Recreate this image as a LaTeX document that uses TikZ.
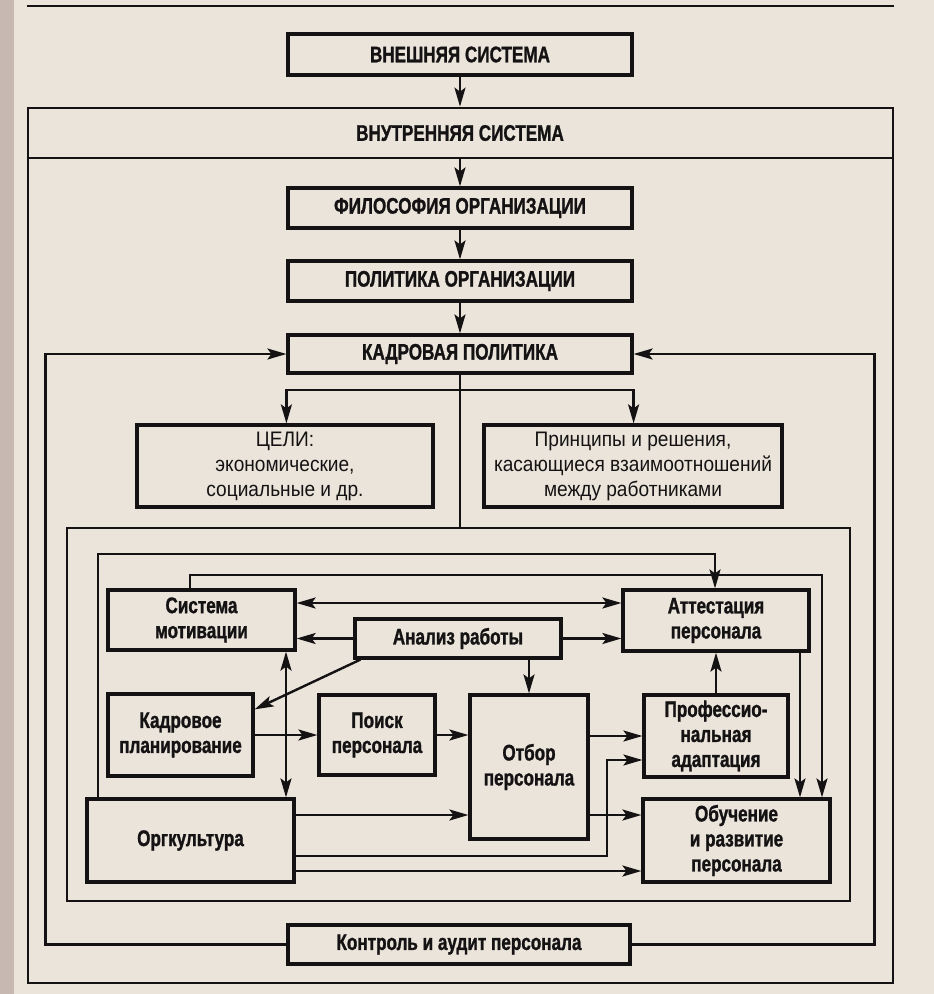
\documentclass[tikz,border=0pt]{standalone}
\usepackage{fontspec}
\setmainfont{Liberation Sans}
\newfontfamily\bcond{Liberation Sans}[FakeStretch=0.76, BoldFeatures={FakeBold=1.2}]
\newfontfamily\rcond{Liberation Sans}[FakeStretch=0.91]
\usetikzlibrary{arrows.meta,calc}
\definecolor{paper}{RGB}{234,228,219}
\definecolor{ink}{RGB}{20,18,18}
\definecolor{scanedge}{RGB}{200,184,178}
\begin{document}
\begin{tikzpicture}[x=1pt,y=-1pt,
  bx/.style={draw=ink, line width=3.2pt, inner sep=2pt, align=center, text=ink,
    font=\bcond\bfseries\fontsize{22.5}{25}\selectfont},
  rbx/.style={bx, font=\rcond\fontsize{21}{25}\selectfont},
  fr/.style={draw=ink, line width=2.7pt},
  ln/.style={draw=ink, line width=2.4pt},
  arr/.style={ln, -{Stealth[length=19pt,width=11pt,inset=4pt]}},
  arrb/.style={ln, {Stealth[length=19pt,width=11pt,inset=4pt]}-{Stealth[length=19pt,width=11pt,inset=4pt]}},
]
\useasboundingbox (0,0) rectangle (934,994);
\fill[paper] (0,0) rectangle (934,994);
\fill[scanedge] (0,0) rectangle (14,994);

% frames
\node[fr, inner sep=0, minimum width=865pt, minimum height=875pt] (outer) at (460.5,545.5) {};
\node[fr, inner sep=0, minimum width=783pt, minimum height=373pt] (frameA) at (458.5,714.5) {};
\coordinate (tl) at (0,6);
\coordinate (dv) at (0,158);
\draw[fr] (outer.west |- tl) -- (outer.east |- tl);
\draw[fr] (outer.west |- dv) -- (outer.east |- dv);

% upper boxes
\node[bx, minimum width=344pt, minimum height=41pt] (ext) at (460,54.5) {ВНЕШНЯЯ СИСТЕМА};
\node[bx, draw=none] (inner) at (460,133) {ВНУТРЕННЯЯ СИСТЕМА};
\node[bx, minimum width=344pt, minimum height=40pt] (phil) at (460,208) {ФИЛОСОФИЯ ОРГАНИЗАЦИИ};
\node[bx, minimum width=344pt, minimum height=40pt] (pol) at (460,281) {ПОЛИТИКА ОРГАНИЗАЦИИ};
\node[bx, minimum width=344pt, minimum height=38pt] (kp) at (460,354) {КАДРОВАЯ ПОЛИТИКА};
\node[rbx, minimum width=296pt, minimum height=82pt] (goals) at (285,466) {ЦЕЛИ:\\экономические,\\социальные и др.};
\node[rbx, minimum width=298pt, minimum height=82pt] (princ) at (633,466) {Принципы и решения,\\касающиеся взаимоотношений\\между работниками};

% inner boxes
\node[bx, minimum width=187pt, minimum height=60pt] (sm) at (201.5,620) {Система\\мотивации};
\node[bx, minimum width=206pt, minimum height=39pt] (an) at (458,638.5) {Анализ работы};
\node[bx, minimum width=186pt, minimum height=61pt] (att) at (716,620.5) {Аттестация\\персонала};
\node[bx, minimum width=145pt, minimum height=82pt] (kplan) at (180.5,735) {Кадровое\\планирование};
\node[bx, minimum width=116pt, minimum height=80pt] (poisk) at (377,735) {Поиск\\персонала};
\node[bx, minimum width=118pt, minimum height=144pt] (otbor) at (529,767) {Отбор\\персонала};
\node[bx, minimum width=144pt, minimum height=82pt] (prof) at (716,736) {Профессио-\\нальная\\адаптация};
\node[bx, minimum width=207pt, minimum height=83pt] (org) at (190.5,840.5) {Оргкультура};
\node[bx, minimum width=187pt, minimum height=83pt] (obuch) at (736.5,840.5) {Обучение\\и развитие\\персонала};
\node[bx, minimum width=342pt, minimum height=39pt] (ctrl) at (459,944.5) {Контроль и аудит персонала};

% upper chain
\draw[arr] (ext.south) -- (ext.south |- outer.north);
\draw[arr] (phil.north |- dv) -- (phil.north);
\draw[arr] (phil.south) -- (pol.north);
\draw[arr] (pol.south) -- (kp.north);

% kadrovaya politika branches
\coordinate (j) at (460,390);
\draw[ln] (kp.south) -- (kp.south |- frameA.north);
\draw[arr] (kp.south |- j) -| (goals.north -| kp.west);
\draw[arr] (kp.south |- j) -| (princ.north -| kp.east);

% feedback loops from control
\draw[arr] (ctrl.west) -| ($(kp.west)+(-241,0)$) -- (kp.west);
\draw[arr] (ctrl.east) -| ($(kp.east)+(241,0)$) -- (kp.east);

% inner connectors
\coordinate (bA) at (98,554);
\coordinate (bAt) at (715,554);
\draw[arr] (org.north -| bA) -- (bA) -- (bAt) -- (att.north -| bAt);
\coordinate (bB) at (190,575);
\coordinate (bBt) at (822,575);
\draw[arr] (sm.north -| bB) -- (bB) -- (bBt) -- (obuch.north -| bBt);
\coordinate (h603) at (0,603);
\draw[arrb] (sm.east |- h603) -- (att.west |- h603);
\draw[arr] (an.west) -- (sm.east |- an.west);
\draw[arr] (an.east) -- (att.west |- an.east);
\draw[arr] ([xshift=7pt]an.south west) -- ([yshift=-17pt]kplan.north east);
\draw[arr] (an.south -| otbor.north) -- (otbor.north);
\coordinate (v286) at (286,0);
\draw[arrb] (sm.south -| v286) -- (org.north -| v286);
\draw[arr] (kplan.east) -- (poisk.west);
\draw[arr] (poisk.east) -- (otbor.west |- poisk.east);
\draw[arr] (otbor.east |- prof.west) -- (prof.west);
\coordinate (d1) at (607,856);
\coordinate (d2) at (607,760);
\draw[arr] (org.east |- d1) -- (d1) -- (d2) -- (prof.west |- d2);
\coordinate (h815) at (0,815);
\coordinate (h871) at (0,871);
\draw[arr] (org.east |- h815) -- (otbor.west |- h815);
\draw[arr] (otbor.east |- h815) -- (obuch.west |- h815);
\draw[arr] (org.east |- h871) -- (obuch.west |- h871);
\draw[arr] (prof.north) -- (att.south -| prof.north);
\coordinate (v800) at (800,0);
\draw[arr] (att.south -| v800) -- (obuch.north -| v800);
\end{tikzpicture}
\end{document}
